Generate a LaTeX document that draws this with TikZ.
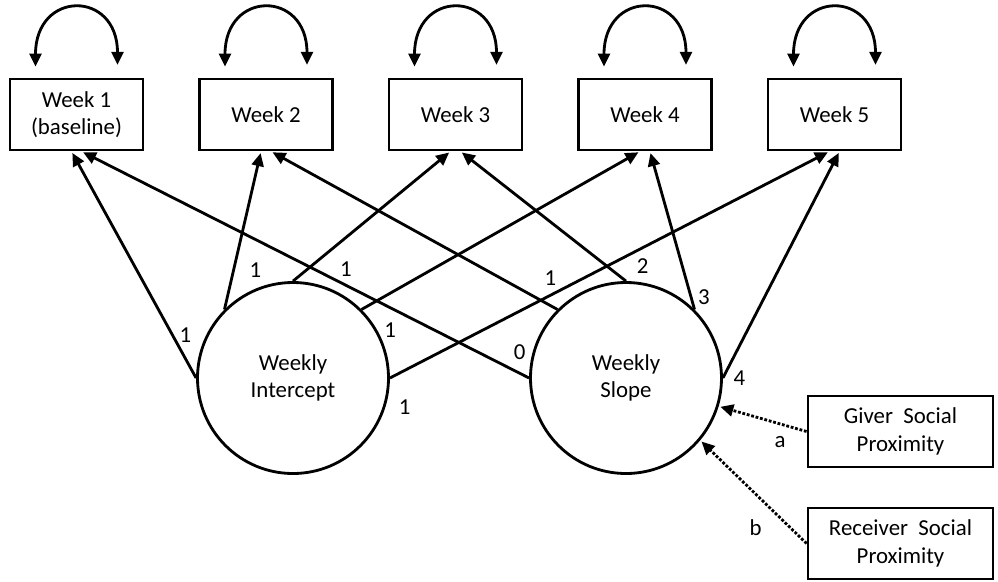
\documentclass[tikz,border=0pt]{standalone}
\usepackage{fontspec}
\setmainfont{Carlito}
\usepackage{tikz}
\usetikzlibrary{arrows.meta,positioning}

\begin{document}
\begin{tikzpicture}[->,>={Triangle[length=7.4pt,width=6.8pt]},shorten >=1pt,line width=1.6pt,node distance=3.79cm,
                    font=\fontsize{13}{15.7}\selectfont,
                    week node/.style={rectangle,draw,minimum width=2.66cm,minimum height=1.42cm,align=center},
                    factor node/.style={circle,draw,minimum size=3.82cm,align=center},
                    proxy node/.style={rectangle,draw,minimum width=3.7cm,minimum height=1.42cm,align=center}]

  \useasboundingbox (0,0) rectangle (19.96,-11.62);

  \node[week node] (wk1) at (1.53,-2.29) {Week 1\\(baseline)};
  \node[week node] (wk2) [right of=wk1] {Week 2};
  \node[week node] (wk3) [right of=wk2] {Week 3};
  \node[week node] (wk4) [right of=wk3] {Week 4};
  \node[week node] (wk5) [right of=wk4] {Week 5};
  \node[factor node] (icpt) at (5.86,-7.56) {Weekly\\Intercept};
  \node[factor node,node distance=6.66cm] (slope) [right of=icpt] {Weekly\\Slope};
  \node[proxy node] (giver) at (18.01,-8.63) {Giver~ Social\\Proximity};
  \node[proxy node,node distance=2.24cm] (recv) [below of=giver] {Receiver~ Social\\Proximity};

  % residual variances
  \draw[<->] ([xshift=-.82cm,yshift=.22cm]wk1.north) to[out=90,in=90,looseness=2.4] ([xshift=.82cm,yshift=.22cm]wk1.north);
  \draw[<->] ([xshift=-.82cm,yshift=.22cm]wk2.north) to[out=90,in=90,looseness=2.4] ([xshift=.82cm,yshift=.22cm]wk2.north);
  \draw[<->] ([xshift=-.82cm,yshift=.22cm]wk3.north) to[out=90,in=90,looseness=2.4] ([xshift=.82cm,yshift=.22cm]wk3.north);
  \draw[<->] ([xshift=-.82cm,yshift=.22cm]wk4.north) to[out=90,in=90,looseness=2.4] ([xshift=.82cm,yshift=.22cm]wk4.north);
  \draw[<->] ([xshift=-.82cm,yshift=.22cm]wk5.north) to[out=90,in=90,looseness=2.4] ([xshift=.82cm,yshift=.22cm]wk5.north);

  % loadings
  \path
    (icpt.180) edge node[pos=.19,right] {1} ([xshift=-1mm]wk1.south)
    (icpt.135) edge node[pos=.25,right=5pt] {1} ([xshift=-1mm]wk2.south)
    (icpt.90)  edge node[pos=.23,below right=3pt] {1} ([xshift=-1mm]wk3.south)
    (icpt.45)  edge node[pos=.05,below right=8pt and 1pt] {1} ([xshift=-1mm]wk4.south)
    (icpt.0)   edge node[pos=0,below right=8pt and 1pt] {1} ([xshift=-1mm]wk5.south)
    (slope.180) edge node[pos=.05,above right] {0} ([xshift=1mm]wk1.south)
    (slope.135) edge node[pos=.07,above right=3pt and 0pt] {1} ([xshift=1mm]wk2.south)
    (slope.90)  edge node[pos=0,above right=0pt and 2pt] {2} ([xshift=1mm]wk3.south)
    (slope.45)  edge node[pos=.08,right] {3} ([xshift=1mm]wk4.south)
    (slope.0)   edge node[pos=0,right=2pt] {4} ([xshift=1mm]wk5.south);

  % predictors
  \path[densely dotted]
    (giver.west) edge node[pos=.3,below=3pt] {a} (slope.-17)
    (recv.west)  edge node[pos=.33,below left=2pt] {b} (slope.-40);

\end{tikzpicture}
\end{document}
